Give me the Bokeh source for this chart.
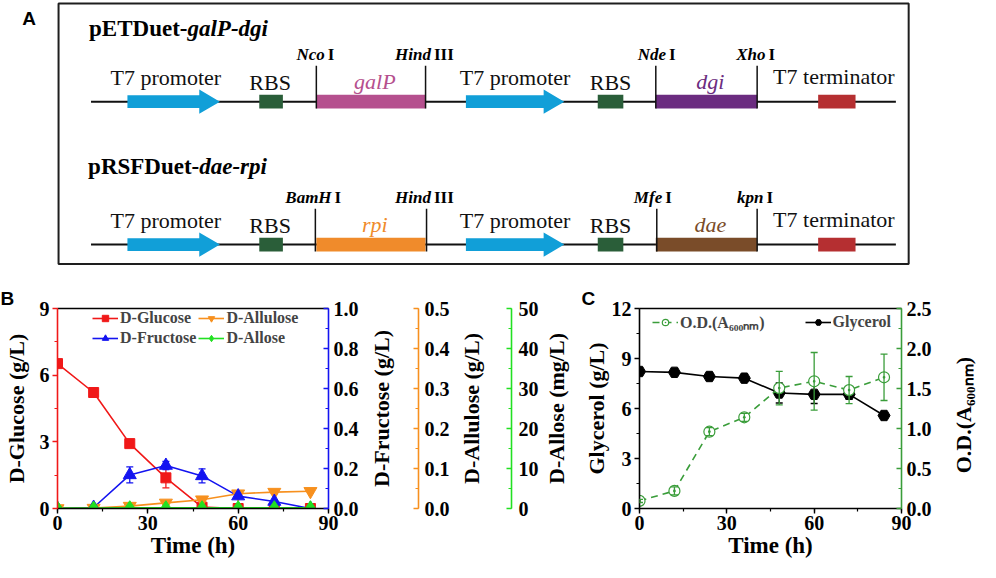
import math
from bokeh.plotting import figure
from bokeh.models import (Range1d, LinearAxis, SingleIntervalTicker, FixedTicker,
                          PrintfTickFormatter, ColumnDataSource, Whisker, TeeHead,
                          Legend, LegendItem)
from bokeh.layouts import column, row
from bokeh.embed import file_html
from bokeh.resources import INLINE
from bokeh.core.properties import value

SERIF = "Liberation Serif"
SANS = "Liberation Sans"

# ===================== Panel A: construct maps =====================
construct_prefix = ["pETDuet-", "pRSFDuet-"]
construct_genes = ["galP-dgi", "dae-rpi"]
gene1_names = ["galP", "rpi"]
gene2_names = ["dgi", "dae"]
site_names = [["Nco", "Hind", "Nde", "Xho"], ["BamH", "Hind", "Mfe", "kpn"]]
site_numerals = [["I", "III", "I", "I"], ["I", "III", "I", "I"]]
element_labels = ["T7 promoter", "RBS", "T7 promoter", "RBS", "T7 terminator"]

# map geometry (map units)
map_row_y = [104, 251]
title_y = [29, 171]
title_split = [190, 202]
backbone_span = [92, 910]
promoter_spans = [[129, 223], [473, 573]]
rbs_spans = [[263, 287], [607, 633]]
gene1_span = [321, 432]
gene2_span = [666, 769]
terminator_span = [831, 869]
site_x = [[321, 432, 666, 769], [320, 433, 667, 769]]
site_label_split = [[330, 438, 677, 778], [337, 438, 673, 776]]
element_label_x = [168, 274, 523, 620, 847]
element_label_dy = [-24.5, -20, -24.5, -20, -25.5]

PROMOTER = "#119fd8"
RBS_C = "#2a5e39"
TERM_C = "#b52f31"
gene1_colors = ["#b5508e", "#f08b2b"]
gene2_colors = ["#6b2c80", "#7a4c29"]

# ===================== Panel B data =====================
time_h = [0, 12, 24, 36, 48, 60, 72, 84]
glucose_gL = [6.52, 5.22, 2.92, 1.38, 0.06, 0.0, 0.0, 0.0]
glucose_err = [0.05, 0.08, 0.08, 0.45, 0.03, 0.0, 0.0, 0.0]
fructose_gL = [0.0, 0.005, 0.168, 0.215, 0.163, 0.062, 0.035, 0.0]
fructose_err = [0.0, 0.0, 0.04, 0.02, 0.035, 0.005, 0.005, 0.0]
allulose_gL = [0.0, 0.001, 0.006, 0.014, 0.022, 0.037, 0.041, 0.043]
allulose_err = [0.0, 0.0, 0.002, 0.003, 0.003, 0.004, 0.004, 0.004]
allose_mgL = [0.1, 0.1, 0.2, 0.2, 0.2, 0.2, 0.2, 0.2]

# ===================== Panel C data =====================
od_A600 = [0.095, 0.22, 0.96, 1.14, 1.505, 1.59, 1.48, 1.64]
od_err = [0.02, 0.05, 0.05, 0.05, 0.21, 0.36, 0.17, 0.29]
glycerol_gL = [8.22, 8.17, 7.92, 7.82, 6.93, 6.85, 6.85, 5.58]
glycerol_err = [0.1, 0.1, 0.1, 0.1, 0.6, 0.55, 0.3, 0.15]

RED = "#f01818"
BLUE = "#1414f0"
ORANGE = "#f7901e"
LGREEN = "#22e022"
DGREEN = "#3a9d3a"


def style_axis(ax, color, ticker, label, fmt=None, ticks_in=True, label_size="22px",
               tick_size="20px", label_standoff=10, tick_standoff=5):
    ax.ticker = ticker
    ax.axis_label = label
    if fmt:
        ax.formatter = PrintfTickFormatter(format=fmt)
    ax.axis_line_color = color
    ax.axis_line_width = 1.6
    ax.major_tick_line_color = color
    ax.minor_tick_line_color = color
    ax.major_tick_line_width = 1.4
    ax.minor_tick_line_width = 1.2
    if ticks_in:
        ax.major_tick_in, ax.major_tick_out = 5, 0
        ax.minor_tick_in, ax.minor_tick_out = 3, 0
    else:
        ax.major_tick_in, ax.major_tick_out = 0, 5
        ax.minor_tick_in, ax.minor_tick_out = 0, 3
    ax.major_label_standoff = tick_standoff
    ax.major_label_text_font = SERIF
    ax.major_label_text_font_style = "bold"
    ax.major_label_text_font_size = tick_size
    ax.major_label_text_color = "black"
    ax.axis_label_text_font = SERIF
    ax.axis_label_text_font_style = "bold"
    ax.axis_label_text_font_size = label_size
    ax.axis_label_text_color = "black"
    ax.axis_label_standoff = label_standoff
    return ax


def border_axis():
    return LinearAxis(ticker=FixedTicker(ticks=[]), axis_line_color="black",
                      axis_line_width=1.6, major_tick_out=0, major_tick_in=0,
                      minor_tick_out=0, minor_tick_in=0)


def spacer_axis(standoff):
    # empty axis that only reserves horizontal room between stacked axes
    return LinearAxis(ticker=FixedTicker(ticks=[]), axis_label=" ", axis_line_color=None,
                      major_tick_line_color=None, minor_tick_line_color=None,
                      major_tick_out=0, major_tick_in=0, minor_tick_out=0, minor_tick_in=0,
                      axis_label_text_font_size="10px", axis_label_standoff=standoff)


def side_title(p, text, x, y, range_name="default"):
    # right-hand axis title, reading bottom-to-top
    p.text(x=[x], y=[y], text=[text], angle=math.pi / 2, text_align="center",
           text_baseline="middle", text_font=value(SERIF), text_font_style="bold",
           text_font_size="22px", text_color="black", level="annotation",
           y_range_name=range_name)


def panel_letter(p, letter, x, y):
    p.text(x=[x], y=[y], text=[letter], text_align="left", text_baseline="middle",
           text_font=value(SANS), text_font_style="bold", text_font_size="19px",
           text_color="black", level="annotation")


# ===================== Panel A figure =====================
pA = figure(width=980, height=284, x_range=Range1d(0, 996), y_range=Range1d(292, 0),
            x_axis_location=None, y_axis_location=None, toolbar_location=None,
            output_backend="svg", min_border=0)
pA.outline_line_color = None
pA.grid.visible = False
pA.quad(left=[59], right=[923], top=[3], bottom=[271], fill_color=None,
        line_color="#1e1e1e", line_width=2)
pA.text(x=[22], y=[19], text=["A"], text_font=value(SANS), text_font_style="bold",
        text_font_size="19px", text_baseline="middle", text_color="black")

for r, yc in enumerate(map_row_y):
    pA.text(x=[title_split[r]], y=[title_y[r]], text=[construct_prefix[r]],
            text_font=value(SERIF), text_font_style="bold", text_font_size="23px",
            text_align="right", text_baseline="middle", text_color="black")
    pA.text(x=[title_split[r]], y=[title_y[r]], text=[construct_genes[r]],
            text_font=value(SERIF), text_font_style="bold italic", text_font_size="23px",
            text_align="left", text_baseline="middle", text_color="black")
    pA.segment(x0=[backbone_span[0]], y0=[yc], x1=[backbone_span[1]], y1=[yc],
               line_color="#111111", line_width=2)
    xs, ys = [], []
    for (a, b) in promoter_spans:
        h = b - 21
        xs.append([a, h, h, b, h, h, a])
        ys.append([yc - 6.5, yc - 6.5, yc - 12.5, yc, yc + 12.5, yc + 6.5, yc + 6.5])
    pA.patches(xs, ys, fill_color=PROMOTER, line_color=None)
    pA.quad(left=[s[0] for s in rbs_spans], right=[s[1] for s in rbs_spans],
            top=yc - 7, bottom=yc + 7, fill_color=RBS_C, line_color=None)
    pA.quad(left=[gene1_span[0]], right=[gene1_span[1]], top=yc - 7, bottom=yc + 7,
            fill_color=gene1_colors[r], line_color=None)
    pA.quad(left=[gene2_span[0]], right=[gene2_span[1]], top=yc - 7, bottom=yc + 7,
            fill_color=gene2_colors[r], line_color=None)
    pA.quad(left=[terminator_span[0]], right=[terminator_span[1]], top=yc - 7,
            bottom=yc + 7, fill_color=TERM_C, line_color=None)
    pA.segment(x0=site_x[r], y0=[yc - 37] * 4, x1=site_x[r], y1=[yc + 7] * 4,
               line_color="#111111", line_width=1.5)
    pA.text(x=[s - 0.5 for s in site_label_split[r]], y=[yc - 48.5] * 4, text=site_names[r],
            text_font=value(SERIF), text_font_style="bold italic", text_font_size="17px",
            text_align="right", text_baseline="middle", text_color="black")
    pA.text(x=[s + 2.5 for s in site_label_split[r]], y=[yc - 48.5] * 4, text=site_numerals[r],
            text_font=value(SERIF), text_font_style="bold", text_font_size="17px",
            text_align="left", text_baseline="middle", text_color="black")
    pA.text(x=element_label_x, y=[yc + d for d in element_label_dy], text=element_labels,
            text_font=value(SERIF), text_font_size="22px", text_align="center",
            text_baseline="middle", text_color="#111111")
    pA.text(x=[(gene1_span[0] + gene1_span[1]) / 2 + 4, (gene2_span[0] + gene2_span[1]) / 2 + 4],
            y=[yc - 21, yc - 21], text=[gene1_names[r], gene2_names[r]],
            text_font=value(SERIF), text_font_style="italic", text_font_size="22px",
            text_align="center", text_baseline="middle",
            text_color=[gene1_colors[r], gene2_colors[r]])

# ===================== Panel B figure =====================
pB = figure(width=580, height=278, x_range=Range1d(0, 90), y_range=Range1d(0, 9),
            x_axis_location=None, y_axis_location=None, toolbar_location=None,
            output_backend="svg", min_border_left=57, min_border_right=252,
            min_border_top=24, min_border_bottom=54)
pB.outline_line_color = None
pB.grid.visible = False
pB.extra_y_ranges = {"fru": Range1d(0, 1.0), "alu": Range1d(0, 0.5), "alo": Range1d(0, 50)}

xB = style_axis(LinearAxis(), "black", SingleIntervalTicker(interval=30, num_minor_ticks=2),
                "Time (h)", ticks_in=False, label_size="23px", tick_standoff=2, label_standoff=0)
pB.add_layout(xB, "below")
yB = style_axis(LinearAxis(), RED, SingleIntervalTicker(interval=3, num_minor_ticks=2),
                "D-Glucose (g/L)", ticks_in=False, label_standoff=8, tick_standoff=3)
pB.add_layout(yB, "left")
pB.add_layout(border_axis(), "above")
aFru = style_axis(LinearAxis(y_range_name="fru"), BLUE,
                  SingleIntervalTicker(interval=0.2, num_minor_ticks=2), "", fmt="%.1f")
pB.add_layout(aFru, "right")
pB.add_layout(spacer_axis(43), "right")
aAlu = style_axis(LinearAxis(y_range_name="alu"), ORANGE,
                  SingleIntervalTicker(interval=0.1, num_minor_ticks=2), "", fmt="%.1f",
                  tick_standoff=6)
pB.add_layout(aAlu, "right")
pB.add_layout(spacer_axis(45), "right")
aAlo = style_axis(LinearAxis(y_range_name="alo"), LGREEN,
                  SingleIntervalTicker(interval=10, num_minor_ticks=2), "", tick_standoff=7)
pB.add_layout(aAlo, "right")

# titles of the three right-hand axes, placed beyond the frame (x in time units)
side_title(pB, "D-Fructose (g/L)", 107.6, 4.5)
side_title(pB, "D-Allulose (g/L)", 137.5, 4.5)
side_title(pB, "D-Allose (mg/L)", 165.7, 4.5)
panel_letter(pB, "B", -18.9, 9.45)

srcB = ColumnDataSource(dict(
    t=time_h,
    glc=glucose_gL,
    glc_lo=[v - e for v, e in zip(glucose_gL, glucose_err)],
    glc_hi=[v + e for v, e in zip(glucose_gL, glucose_err)],
    fru=fructose_gL,
    fru_lo=[v - e for v, e in zip(fructose_gL, fructose_err)],
    fru_hi=[v + e for v, e in zip(fructose_gL, fructose_err)],
    alu=allulose_gL,
    alu_lo=[v - e for v, e in zip(allulose_gL, allulose_err)],
    alu_hi=[v + e for v, e in zip(allulose_gL, allulose_err)],
    alo=allose_mgL,
))


def add_whisker(p, src, lo, hi, color, range_name="default", level="underlay"):
    w = Whisker(source=src, base="t", lower=lo, upper=hi, dimension="height",
                line_color=color, line_width=1.3, y_range_name=range_name, level=level,
                upper_head=TeeHead(size=7, line_color=color, line_width=1.3),
                lower_head=TeeHead(size=7, line_color=color, line_width=1.3))
    p.add_layout(w)


add_whisker(pB, srcB, "glc_lo", "glc_hi", RED)
add_whisker(pB, srcB, "fru_lo", "fru_hi", BLUE, "fru")
add_whisker(pB, srcB, "alu_lo", "alu_hi", ORANGE, "alu")

l_glc = pB.line("t", "glc", source=srcB, line_color=RED, line_width=1.6)
l_fru = pB.line("t", "fru", source=srcB, line_color=BLUE, line_width=1.6, y_range_name="fru")
l_alu = pB.line("t", "alu", source=srcB, line_color=ORANGE, line_width=1.6, y_range_name="alu")
l_alo = pB.line("t", "alo", source=srcB, line_color=LGREEN, line_width=1.6, y_range_name="alo")
s_glc = pB.scatter("t", "glc", source=srcB, marker="square", size=10, fill_color=RED,
                   line_color=RED)
s_alu = pB.scatter("t", "alu", source=srcB, marker="inverted_triangle", size=13,
                   fill_color=ORANGE, line_color=ORANGE, y_range_name="alu")
s_fru = pB.scatter("t", "fru", source=srcB, marker="triangle", size=13, fill_color=BLUE,
                   line_color=BLUE, y_range_name="fru")
s_alo = pB.scatter("t", "alo", source=srcB, marker="diamond", size=14, fill_color=LGREEN,
                   line_color=LGREEN, y_range_name="alo")

legB = Legend(items=[LegendItem(label="D-Glucose", renderers=[l_glc, s_glc]),
                     LegendItem(label="D-Fructose", renderers=[l_fru, s_fru]),
                     LegendItem(label="D-Allulose", renderers=[l_alu, s_alu]),
                     LegendItem(label="D-Allose", renderers=[l_alo, s_alo])],
              location=(35, 161), orientation="vertical", nrows=2,
              glyph_width=26, glyph_height=16, label_height=16, label_standoff=2,
              spacing=2, padding=0, margin=0, border_line_color=None,
              background_fill_alpha=0, label_text_font=SERIF,
              label_text_font_style="bold", label_text_font_size="16px")
pB.add_layout(legB)

# ===================== Panel C figure =====================
pC = figure(width=400, height=278, x_range=Range1d(0, 90), y_range=Range1d(0, 12),
            x_axis_location=None, y_axis_location=None, toolbar_location=None,
            output_backend="svg", min_border_left=59, min_border_right=79,
            min_border_top=24, min_border_bottom=54)
pC.outline_line_color = None
pC.grid.visible = False
pC.extra_y_ranges = {"od": Range1d(0, 2.5)}

xC = style_axis(LinearAxis(), "black", SingleIntervalTicker(interval=30, num_minor_ticks=2),
                "Time (h)", ticks_in=False, label_size="23px", tick_standoff=2, label_standoff=0)
pC.add_layout(xC, "below")
yC = style_axis(LinearAxis(), "black", SingleIntervalTicker(interval=3, num_minor_ticks=2),
                "Glycerol (g/L)", ticks_in=False, label_standoff=0, tick_standoff=3)
pC.add_layout(yC, "left")
pC.add_layout(border_axis(), "above")
aOD = style_axis(LinearAxis(y_range_name="od"), DGREEN,
                 SingleIntervalTicker(interval=0.5, num_minor_ticks=2), "", fmt="%.1f")
pC.add_layout(aOD, "right")
side_title(pC, "O.D.(A\u2086\u2080\u2080\u2099\u2098)", 111.3, 5.6)
panel_letter(pC, "C", -19.9, 12.6)

srcC = ColumnDataSource(dict(
    t=time_h,
    od=od_A600,
    od_lo=[v - e for v, e in zip(od_A600, od_err)],
    od_hi=[v + e for v, e in zip(od_A600, od_err)],
    gly=glycerol_gL,
    gly_lo=[v - e for v, e in zip(glycerol_gL, glycerol_err)],
    gly_hi=[v + e for v, e in zip(glycerol_gL, glycerol_err)],
))
add_whisker(pC, srcC, "gly_lo", "gly_hi", "black")
l_gly = pC.line("t", "gly", source=srcC, line_color="black", line_width=1.6)
s_gly = pC.scatter("t", "gly", source=srcC, marker="hex", size=12, fill_color="black",
                   line_color="black")
l_od = pC.line("t", "od", source=srcC, line_color=DGREEN, line_width=1.6,
               line_dash="7 5", y_range_name="od")
s_od = pC.scatter("t", "od", source=srcC, marker="circle_dot", size=11, fill_color="white",
                  line_color=DGREEN, line_width=1.2, y_range_name="od")
add_whisker(pC, srcC, "od_lo", "od_hi", DGREEN, "od", level="overlay")

legC = Legend(items=[LegendItem(label="O.D.(A\u2086\u2080\u2080\u2099\u2098)", renderers=[l_od, s_od]),
                     LegendItem(label="Glycerol", renderers=[l_gly, s_gly])],
              location=(13, 175), orientation="horizontal",
              glyph_width=26, glyph_height=16, label_height=16, label_standoff=2,
              spacing=40, padding=0, margin=0, border_line_color=None,
              background_fill_alpha=0, label_text_font=SERIF,
              label_text_font_style="bold", label_text_font_size="16px")
pC.add_layout(legC)

layout = column(pA, row(pB, pC))
open("out.html", "w").write(file_html(layout, INLINE, title="Figure"))
